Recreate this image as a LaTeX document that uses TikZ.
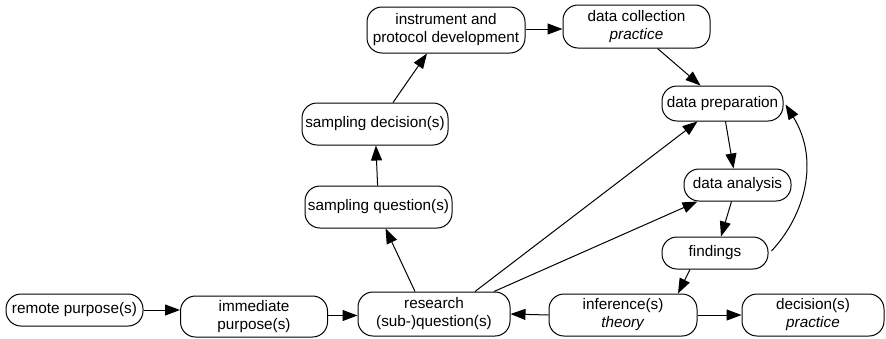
\documentclass[tikz,border=0pt]{standalone}
\usepackage{fontspec}
\setmainfont{Liberation Sans}
\usetikzlibrary{arrows.meta,calc}
\begin{document}
\begin{tikzpicture}[x=1pt,y=-1pt,
  box/.style={draw, line width=1pt, rounded corners=15pt, align=center,
    inner sep=2pt, font=\fontsize{15.3}{18}\selectfont},
  link/.style={line width=1pt, -{Triangle[length=15pt,width=11pt]}}]
\useasboundingbox (0,0) rectangle (886,338);

% process boxes
\node[box, minimum width=137pt, minimum height=32pt] (remote) at (74.5,310) {remote purpose(s)};
\node[box, minimum width=147pt, minimum height=41pt] (immediate) at (254,316.5) {immediate\\purpose(s)};
\node[box, minimum width=152pt, minimum height=44pt] (research) at (434,314) {research\\(sub-)question(s)};
\node[box, minimum width=148pt, minimum height=42pt] (inference) at (623,315) {inference(s)\\\textit{theory}};
\node[box, minimum width=142pt, minimum height=42pt] (decision) at (813,315) {decision(s)\\\textit{practice}};
\node[box, minimum width=147pt, minimum height=42pt] (sq) at (378.5,207) {sampling question(s)};
\node[box, minimum width=146pt, minimum height=42pt] (sd) at (375,124) {sampling decision(s)};
\node[box, minimum width=158pt, minimum height=46pt] (inst) at (446,30) {instrument and\\protocol development};
\node[box, minimum width=147pt, minimum height=43pt] (dc) at (636.5,26.5) {data collection\\\textit{practice}};
\node[box, minimum width=121pt, minimum height=35pt] (dp) at (722.5,103.5) {data preparation};
\node[box, minimum width=107pt, minimum height=32pt] (da) at (737.5,185) {data analysis};
\node[box, minimum width=106pt, minimum height=32pt] (fi) at (715,253) {findings};

% connectors along the bottom row
\draw[link] (remote) -- (immediate.west |- remote);
\draw[link] ($(immediate.east)+(0,-1)$) -- ($(research.west)+(0,1.5)$);
\draw[link] (inference.west) -- (research.east);
\draw[link] (inference.east) -- (decision.west);

% sampling branch
\draw[link] ($(research.north)+(-19,0)$) -- ($(sq.south)+(7,0)$);
\draw[link] (sq) -- (sd);
\draw[link] ($(sd.north)+(18,0)$) -- ($(inst.south)+(-19,0)$);
\draw[link] ($(inst.east)+(0,-1)$) -- ($(dc.west)+(0,2.5)$);
\draw[link] ($(dc.south)+(21,0)$) -- ($(dp.north)+(-22,0)$);

% data branch
\draw[link] ($(research.north)+(41,0)$) -- ($(dp.south)+(-25,0)$);
\draw[link] ($(research.north)+(60,0)$) -- ($(da.south)+(-40,0)$);
\draw[link] ($(dp.south)+(3,0)$) -- ($(da.north)+(-4,0)$);
\draw[link] ($(da.south)+(-6,0)$) -- ($(fi.north)+(6,0)$);
\draw[link] ($(fi.south)+(-25,0)$) -- ($(inference.north)+(55,0)$);
\draw[link] ($(fi.east)+(3,-2)$) .. controls (805,215) and (820,160) .. ($(dp.east)+(2,1)$);
\end{tikzpicture}
\end{document}
